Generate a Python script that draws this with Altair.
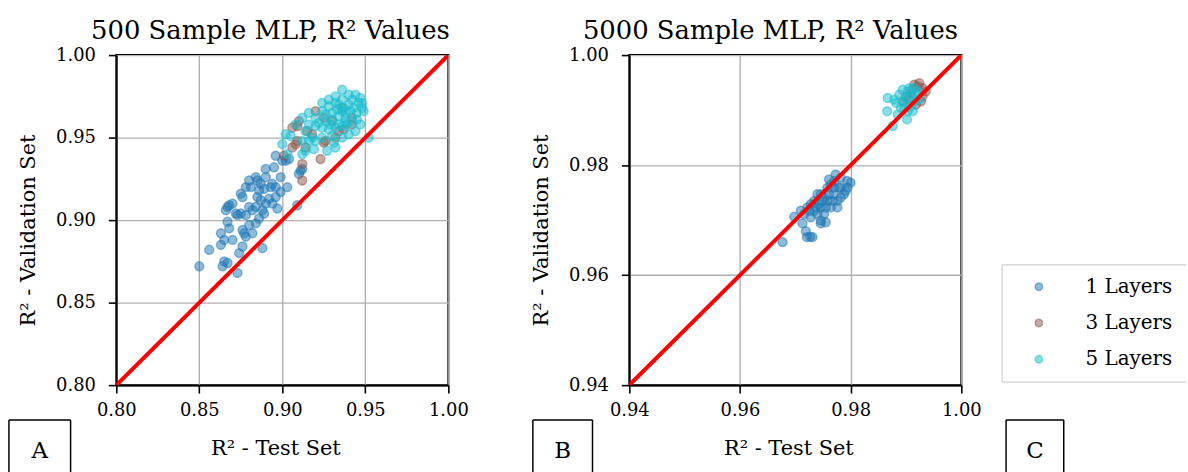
import altair as alt
import pandas as pd

FONT = "DejaVu Serif"
LAYERS = ["1 Layers", "3 Layers", "5 Layers"]
COLORS = ["#1f77b4", "#8c564b", "#17becf"]

A_TICKS = [0.80, 0.85, 0.90, 0.95, 1.00]
B_TICKS = [0.94, 0.96, 0.98, 1.00]
A_TITLE = "500 Sample MLP, R² Values"
B_TITLE = "5000 Sample MLP, R² Values"
X_TITLE = "R² - Test Set"
Y_TITLE = "R² - Validation Set"

# Panel A (500 samples): (test R2, validation R2)
a_l1 = [(0.850, 0.872), (0.856, 0.882), (0.863, 0.892), (0.864, 0.872), (0.865, 0.875),
        (0.867, 0.874), (0.873, 0.868), (0.874, 0.880), (0.876, 0.884), (0.863, 0.885),
        (0.865, 0.888), (0.870, 0.888), (0.868, 0.895), (0.878, 0.890), (0.888, 0.883),
        (0.867, 0.899), (0.866, 0.906), (0.868, 0.909), (0.872, 0.904), (0.875, 0.904),
        (0.878, 0.903), (0.880, 0.897), (0.884, 0.898), (0.886, 0.901), (0.889, 0.904),
        (0.875, 0.916), (0.876, 0.914), (0.878, 0.920), (0.880, 0.924), (0.884, 0.926),
        (0.887, 0.922), (0.890, 0.926), (0.894, 0.922), (0.896, 0.920), (0.890, 0.931),
        (0.895, 0.932), (0.896, 0.939), (0.899, 0.926), (0.903, 0.920), (0.897, 0.907),
        (0.909, 0.909), (0.884, 0.908), (0.880, 0.908), (0.887, 0.912), (0.892, 0.913),
        (0.894, 0.910), (0.885, 0.914), (0.882, 0.906), (0.888, 0.906), (0.876, 0.894),
        (0.882, 0.892), (0.877, 0.892), (0.881, 0.920), (0.889, 0.919), (0.896, 0.914),
        (0.899, 0.917), (0.902, 0.936), (0.904, 0.937), (0.910, 0.928), (0.912, 0.931),
        (0.911, 0.930), (0.867, 0.908), (0.870, 0.910), (0.873, 0.903), (0.890, 0.910),
        (0.893, 0.920), (0.886, 0.918), (0.885, 0.924), (0.900, 0.936)]
a_l3 = [(0.906, 0.956), (0.909, 0.957), (0.906, 0.944), (0.908, 0.946), (0.901, 0.939),
        (0.912, 0.924), (0.912, 0.934), (0.923, 0.937), (0.914, 0.944), (0.925, 0.947),
        (0.926, 0.948), (0.918, 0.952), (0.934, 0.954), (0.937, 0.955), (0.942, 0.962),
        (0.920, 0.966), (0.930, 0.960), (0.936, 0.968), (0.910, 0.960), (0.909, 0.948),
        (0.932, 0.950), (0.942, 0.958), (0.925, 0.962), (0.915, 0.954)]
a_l5 = [(0.936, 0.979), (0.924, 0.971), (0.932, 0.975), (0.940, 0.976), (0.944, 0.976),
        (0.948, 0.971), (0.949, 0.966), (0.952, 0.950), (0.900, 0.946), (0.902, 0.952),
        (0.912, 0.940), (0.919, 0.943), (0.927, 0.942), (0.932, 0.944), (0.931, 0.947),
        (0.908, 0.958), (0.912, 0.962), (0.916, 0.965), (0.920, 0.962), (0.924, 0.966),
        (0.928, 0.969), (0.930, 0.965), (0.934, 0.970), (0.936, 0.966), (0.938, 0.962),
        (0.940, 0.970), (0.943, 0.968), (0.945, 0.965), (0.946, 0.971), (0.942, 0.960),
        (0.939, 0.958), (0.936, 0.957), (0.932, 0.956), (0.928, 0.955), (0.924, 0.956),
        (0.920, 0.957), (0.916, 0.958), (0.914, 0.954), (0.918, 0.950), (0.924, 0.950),
        (0.930, 0.951), (0.936, 0.950), (0.940, 0.952), (0.944, 0.954), (0.947, 0.958),
        (0.926, 0.960), (0.930, 0.961), (0.934, 0.963), (0.938, 0.965), (0.941, 0.966),
        (0.936, 0.973), (0.932, 0.971), (0.928, 0.973), (0.942, 0.973), (0.947, 0.974),
        (0.920, 0.948), (0.916, 0.948), (0.905, 0.951), (0.926, 0.964), (0.922, 0.959),
        (0.929, 0.958), (0.934, 0.958), (0.938, 0.959), (0.937, 0.968), (0.933, 0.967),
        (0.945, 0.961), (0.948, 0.968), (0.912, 0.948), (0.914, 0.942), (0.903, 0.940)]

# Panel B (5000 samples)
b_l1 = [(0.9677, 0.9660), (0.9698, 0.9706), (0.9713, 0.9694), (0.9719, 0.9680), (0.9721, 0.9669),
        (0.9731, 0.9669), (0.9727, 0.9670), (0.9746, 0.9694), (0.9755, 0.9696), (0.9722, 0.9723),
        (0.9734, 0.9735), (0.9746, 0.9747), (0.9758, 0.9759), (0.9770, 0.9771), (0.9782, 0.9777),
        (0.9800, 0.9768), (0.9794, 0.9759), (0.9788, 0.9747), (0.9776, 0.9735), (0.9764, 0.9723),
        (0.9752, 0.9711), (0.9740, 0.9711), (0.9746, 0.9723), (0.9758, 0.9735), (0.9770, 0.9747),
        (0.9779, 0.9759), (0.9764, 0.9765), (0.9752, 0.9741), (0.9734, 0.9717), (0.9728, 0.9705),
        (0.9743, 0.9729), (0.9776, 0.9723), (0.9782, 0.9741), (0.9791, 0.9753), (0.9773, 0.9783),
        (0.9761, 0.9774), (0.9740, 0.9747), (0.9728, 0.9729), (0.9716, 0.9711), (0.9710, 0.9717),
        (0.9725, 0.9717), (0.9755, 0.9723), (0.9767, 0.9735), (0.9782, 0.9759), (0.9794, 0.9771),
        (0.9749, 0.9735), (0.9737, 0.9723), (0.9770, 0.9759), (0.9761, 0.9747), (0.9746, 0.9699)]
b_l3 = [(0.9921, 0.9943), (0.9930, 0.9940), (0.9936, 0.9934), (0.9924, 0.9949), (0.9915, 0.9946),
        (0.9927, 0.9916), (0.9918, 0.9910), (0.9909, 0.9930), (0.9900, 0.9925), (0.9912, 0.9938),
        (0.9895, 0.9915), (0.9905, 0.9920), (0.9930, 0.9925)]
b_l5 = [(0.9867, 0.9922), (0.9866, 0.9898), (0.9876, 0.9871), (0.9902, 0.9883), (0.9885, 0.9892),
        (0.9894, 0.9916), (0.9903, 0.9934), (0.9909, 0.9925), (0.9915, 0.9916), (0.9897, 0.9904),
        (0.9882, 0.9913), (0.9888, 0.9928), (0.9900, 0.9922), (0.9909, 0.9907), (0.9918, 0.9928),
        (0.9921, 0.9934), (0.9894, 0.9937), (0.9906, 0.9940), (0.9891, 0.9904), (0.9903, 0.9898),
        (0.9879, 0.9919), (0.9912, 0.9898), (0.9924, 0.9919), (0.9915, 0.9940)]

ONE = pd.DataFrame({"k": [0]})
cscale = alt.Scale(domain=LAYERS, range=COLORS)


def seg(x, x2, y, y2, color="black", w=1.5):
    return alt.Chart(ONE).mark_rule(color=color, strokeWidth=w).encode(
        x=alt.value(x), x2=alt.value(x2), y=alt.value(y), y2=alt.value(y2))


def label(txt, x, y):
    return alt.Chart(ONE).mark_text(text=txt, font=FONT, fontSize=23, color="black").encode(
        x=alt.value(x), y=alt.value(y))


def box(txt, left, right):
    return [seg(left, left, 367, 420), seg(right, right, 367, 420), seg(left, right, 367, 367),
            label(txt, (left + right) / 2, 398)]


def legend_items(x0, y0, step):
    out = [seg(x0 - 37, x0 - 37, y0 - 22, y0 + 96, "#d0d0d0", 1.2),
           seg(x0 - 37, 560, y0 - 22, y0 - 22, "#d0d0d0", 1.2),
           seg(x0 - 37, 560, y0 + 96, y0 + 96, "#d0d0d0", 1.2)]
    for i, name in enumerate(LAYERS):
        d = pd.DataFrame({"layers": [name]})
        out.append(alt.Chart(d).mark_circle(size=55, opacity=1, fillOpacity=0.5, strokeOpacity=0.5,
                                            strokeWidth=1.5).encode(
            x=alt.value(x0), y=alt.value(y0 + step * i),
            color=alt.Color("layers:N", scale=cscale, legend=None),
            stroke=alt.Stroke("layers:N", scale=cscale, legend=None)))
        out.append(alt.Chart(d).mark_text(align="left", baseline="middle", font=FONT, fontSize=20,
                                          color="black").encode(
            x=alt.value(x0 + 47), y=alt.value(y0 + step * i), text="layers:N"))
    return out


def panel(groups, ticks, title, dx, extras):
    rows = []
    for name, pts in zip(LAYERS, groups):
        for t, v in pts:
            rows.append({"layers": name, "test": t, "val": v})
    df = pd.DataFrame(rows)
    dom = [ticks[0], ticks[-1]]
    xenc = alt.X("test:Q", scale=alt.Scale(domain=dom, nice=False, zero=False),
                 axis=alt.Axis(values=ticks, format=".2f", title=X_TITLE, titleX=160, titleY=64,
                               titleAlign="center", titleBaseline="middle"))
    yenc = alt.Y("val:Q", scale=alt.Scale(domain=dom, nice=False, zero=False),
                 axis=alt.Axis(values=ticks, format=".2f", title=Y_TITLE, titleX=-88, titleY=176,
                               titleAngle=270, titleAlign="center", titleBaseline="middle"))
    pts = alt.Chart(df).mark_circle(size=80, opacity=1, fillOpacity=0.5, strokeOpacity=0.5,
                                     strokeWidth=1.5).encode(
        x=xenc, y=yenc,
        color=alt.Color("layers:N", scale=cscale, legend=None),
        stroke=alt.Stroke("layers:N", scale=cscale, legend=None),
    )
    diag = alt.Chart(pd.DataFrame({"test": dom, "val": dom})).mark_line(
        color="red", strokeWidth=4, clip=True).encode(x=xenc, y=yenc)
    return alt.layer(pts, diag, *extras).properties(
        width=334, height=332,
        title=alt.TitleParams(title, frame="group", anchor="middle", dx=dx, dy=36,
                              baseline="alphabetic", offset=17, font=FONT, fontSize=26,
                              fontWeight="normal", color="black"))


p1 = panel([a_l1, a_l3, a_l5], A_TICKS, A_TITLE, -12, box("A", -108, -46))
p2 = panel([b_l1, b_l3, b_l5], B_TICKS, B_TITLE, -25,
           box("B", -97, -37) + box("C", 379, 437) + legend_items(412, 233, 36.5))

chart = alt.hconcat(p1, p2, spacing=60).properties(
    padding={"left": 7, "top": 16, "right": 0, "bottom": 0}
).configure_view(stroke="black", strokeWidth=2).configure_axis(
    labelFont=FONT, labelFontSize=18, labelColor="black", labelFlush=False, labelOverlap=False,
    titleFont=FONT, titleFontSize=21, titleFontWeight="normal", titleColor="black",
    domainColor="black", domainWidth=1.6, tickColor="black", tickWidth=1.6, tickSize=8,
    gridColor="#b0b0b0", gridWidth=1.4
).configure_axisX(labelPadding=9).configure_axisY(labelPadding=13)

chart.save("out.html", embed_options={"renderer": "svg", "actions": False})
